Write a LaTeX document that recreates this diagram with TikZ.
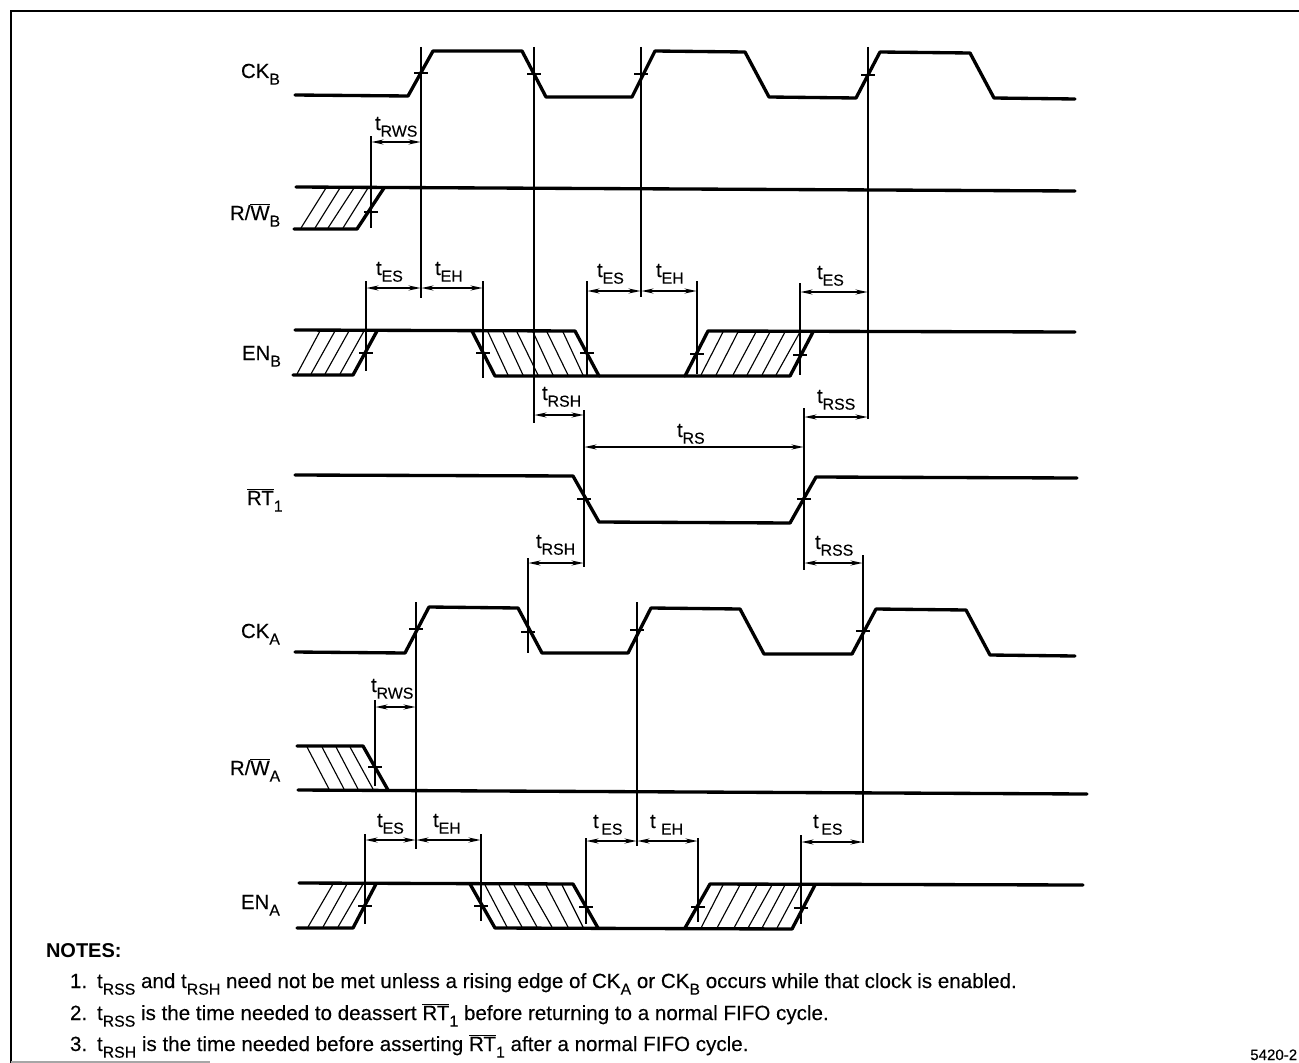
\documentclass[tikz,border=0pt]{standalone}
\usepackage{fontspec}
\setmainfont{Liberation Sans}
\newfontfamily\medf{Liberation Sans}[FakeBold=0.2]
\usetikzlibrary{arrows.meta}
\newcommand\sbs[1]{\raisebox{-5pt}{\fontsize{11.9}{12}\selectfont\medf #1}}
\newcommand\tm[2][0pt]{t\kern#1\sbs{#2}}
\newcommand\ob[1]{$\overline{\hbox{#1}}$}
\tikzset{
  sig/.style={line width=2.5pt,line join=round,line cap=round},
  guide/.style={line width=1.2pt},
  hatchl/.style={line width=0.85pt},
  tickl/.style={line width=0.8pt},
  dim/.style={line width=1pt,{Stealth[length=9pt,width=3.8pt]}-{Stealth[length=9pt,width=3.8pt]},shorten <=0.4pt,shorten >=0.4pt},
  lab/.style={anchor=base west,inner sep=0pt,outer sep=0pt,font=\fontsize{15.3}{17}\selectfont\medf},
  note/.style={anchor=base west,inner sep=0pt,outer sep=0pt,font=\fontsize{15.43}{17}\selectfont\medf},
}
\begin{document}
\begin{tikzpicture}[x=0.75pt,y=-0.75pt]
\useasboundingbox (0,0) rectangle (1299,1063);
% frame
\draw[line width=1.3pt] (1299,11) -- (11,11) -- (11,1063);
\draw[line width=0.9pt,black!35] (11,1062) -- (210,1062);
% signal CK_B
\draw[sig] (295,95) -- (408,96) -- (433,51) -- (522,51) -- (546,97) -- (632,97) -- (655,51) -- (745,52) -- (769,97) -- (856,98) -- (880,52) -- (970,53) -- (994,98) -- (1075,99);
% R/W_B
\draw[sig] (296,187) -- (1075,191);
\draw[sig] (294,229) -- (357,229) -- (384,188);
% EN_B
\draw[sig] (295,330) -- (575,331) -- (599,376);
\draw[sig] (293,375) -- (353,375) -- (377,331);
\draw[sig] (472,331) -- (495,376) -- (790,376) -- (813,332);
\draw[sig] (685,376) -- (708,331) -- (1075,332);
% RT1
\draw[sig] (295,475) -- (573,476) -- (599,522) -- (790,523) -- (816,477) -- (1077,478);
% CK_A
\draw[sig] (295,652) -- (405,653) -- (429,607) -- (518,608) -- (542,653) -- (628,653) -- (651,608) -- (740,609) -- (764,654) -- (852,654) -- (876,609) -- (966,610) -- (990,655) -- (1075,656);
% R/W_A
\draw[sig] (297,746) -- (363,746) -- (388,790);
\draw[sig] (298,790) -- (1087,794);
% EN_A
\draw[sig] (299,883) -- (573,884) -- (598,928);
\draw[sig] (297,928) -- (353,928) -- (376,884);
\draw[sig] (470,884) -- (495,928) -- (792,929) -- (815,885);
\draw[sig] (685,928) -- (710,884) -- (1083,885);
% hatching: bottom x / top x / y bottom / y top
\foreach \a/\b/\ya/\yb in {
  301/326/228/188, 315/340/228/188, 328/354/228/188, 343/368/228/188,
  297/320/374/331, 311/335/374/331, 325/349/374/331, 340/364/374/331,
  701/723/375/332, 716/738/375/332, 733/756/375/332, 747/770/375/332, 762/785/375/332, 776/800/375/332,
  308/333/927/884, 323/347/927/884, 338/363/927/884,
  701/723/928/885, 717/740/928/885, 734/757/928/885, 748/772/928/885, 762/785/928/885, 777/800/928/885}
  {\draw[hatchl] (\a,\ya) -- (\b,\yb);}
\foreach \a/\b/\ya/\yb in {
  488/508/332/375, 503/523/332/375, 517/538/332/375, 533/553/332/375, 547/568/332/375, 563/583/332/375,
  307/329/747/789, 322/344/747/789, 336/358/747/789, 350/373/747/789,
  485/507/885/927, 499/522/885/927, 514/537/885/927, 528/552/885/927, 546/568/885/927, 562/583/885/927}
  {\draw[hatchl] (\a,\ya) -- (\b,\yb);}
% guide lines: x / y top / y bottom
\foreach \x/\p/\q in {
  421/47/298, 534/47/423, 641/47/297, 868/47/419,
  371/136/228, 366/281/371, 483/281/378, 587/281/375, 697/281/374, 800/283/375,
  584/410/567, 804/408/570,
  528/558/653, 416/602/849, 637/602/846, 863/555/843,
  375/700/786, 365/834/924, 481/834/921, 586/838/924, 698/838/922, 801/835/924}
  {\draw[guide] (\x,\p) -- (\x,\q);}
% crossing ticks: x / y
\foreach \x/\y in {
  421/73, 534/74, 641/74, 868/75,
  371/212, 366/353, 483/353, 587/353, 697/354, 800/355,
  584/499, 804/499,
  416/629, 528/632, 637/630, 863/631,
  375/767, 365/906, 481/906, 586/907, 698/907, 801/908}
  {\draw[tickl] (\x-7,\y) -- (\x+7,\y);}
% dimension arrows: x1 / x2 / y
\foreach \a/\b/\y in {
  371/421/142,
  366/421/288, 421/483/288, 587/641/291, 641/697/291, 800/868/292,
  534/584/415, 804/868/417, 584/804/447, 528/584/563, 804/863/563,
  375/416/707,
  365/416/840, 416/481/840, 586/637/841, 637/698/841, 801/863/842}
  {\draw[dim] (\a,\y) -- (\b,\y);}
% signal names
\node[lab] (nckb) at (241,78) {CK\sbs{B}};
\node[lab] (nrwb) at (230,220) {R/\ob{W}\sbs{B}};
\node[lab] (nenb) at (242,360) {EN\sbs{B}};
\node[lab] (nrt) at (247,505) {\ob{RT}\sbs{1}};
\node[lab] (ncka) at (241,638) {CK\sbs{A}};
\node[lab] (nrwa) at (230,775) {R/\ob{W}\sbs{A}};
\node[lab] (nena) at (241,909) {EN\sbs{A}};
% timing labels
\node[lab] (t1) at (375,130) {\tm{RWS}};
\node[lab] (t2) at (376,275) {\tm{ES}};
\node[lab] (t3) at (435,275) {\tm{EH}};
\node[lab] (t4) at (597,277) {\tm{ES}};
\node[lab] (t5) at (656,277) {\tm{EH}};
\node[lab] (t6) at (817,279) {\tm{ES}};
\node[lab] (t7) at (542,400) {\tm{RSH}};
\node[lab] (t8) at (817,403) {\tm{RSS}};
\node[lab] (t9) at (677,437) {\tm{RS}};
\node[lab] (t10) at (536,548) {\tm{RSH}};
\node[lab] (t11) at (815,549) {\tm{RSS}};
\node[lab] (t12) at (371,692) {\tm{RWS}};
\node[lab] (t13) at (377,827) {\tm{ES}};
\node[lab] (t14) at (433,827) {\tm{EH}};
\node[lab] (t15) at (593,828) {\tm[2pt]{ES}};
\node[lab] (t16) at (650,828) {\tm[4pt]{EH}};
\node[lab] (t17) at (813,828) {\tm[2pt]{ES}};
% notes
\node[anchor=base west,inner sep=0pt,outer sep=0pt,font=\fontsize{15}{17}\selectfont\bfseries] (notes) at (46,957) {NOTES:};
\node[note] (n1a) at (70,988) {1.};
\node[note] (n1) at (97,988) {\tm{RSS} and \tm{RSH} need not be met unless a rising edge of CK\sbs{A} or CK\sbs{B} occurs while that clock is enabled.};
\node[note] (n2a) at (70,1020) {2.};
\node[note] (n2) at (97,1020) {\tm{RSS} is the time needed to deassert \ob{RT}\sbs{1} before returning to a normal FIFO cycle.};
\node[note] (n3a) at (70,1051) {3.};
\node[note] (n3) at (97,1051) {\tm{RSH} is the time needed before asserting \ob{RT}\sbs{1} after a normal FIFO cycle.};
\node[anchor=base west,inner sep=0pt,font=\fontsize{11.3}{13}\selectfont\medf] (code) at (1250,1060) {5420-2};
\end{tikzpicture}
\end{document}
